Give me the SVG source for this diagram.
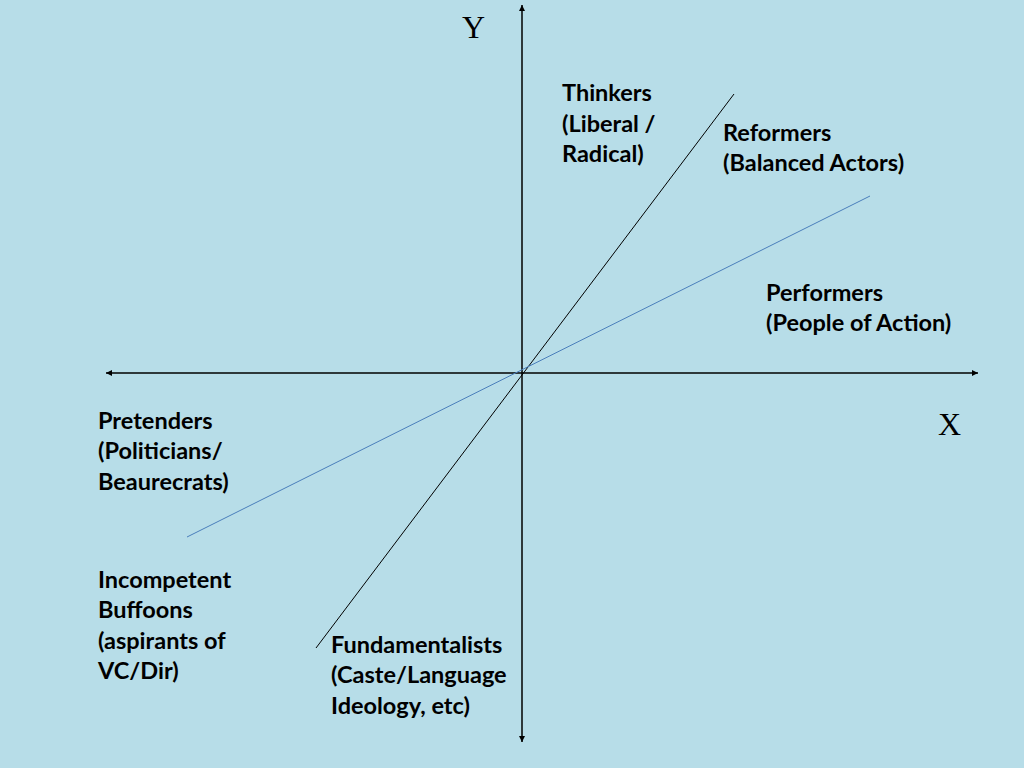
<svg xmlns="http://www.w3.org/2000/svg" width="1024" height="768" viewBox="0 0 1024 768">
<defs>
<style>
.lbl{font-family:"Lato","Liberation Sans",sans-serif;font-weight:bold;font-size:23.5px;fill:#000}
.ax{font-family:"Liberation Serif",serif;font-size:32px;fill:#000}
.axis{stroke:#000;stroke-width:1.5;fill:none}
</style>
<marker id="ah" viewBox="0 0 10 10" refX="10" refY="5" markerWidth="6" markerHeight="6" orient="auto-start-reverse" markerUnits="userSpaceOnUse">
<path d="M0,0 L10,5 L0,10 z" fill="#000"/>
</marker>
</defs>
<rect width="1024" height="768" fill="#B7DDE8"/>
<g id="connectors">
<line class="axis" x1="522" y1="742" x2="522" y2="5" marker-start="url(#ah)" marker-end="url(#ah)"/>
<line class="axis" x1="106" y1="373" x2="978" y2="373" marker-start="url(#ah)" marker-end="url(#ah)"/>
<line x1="316" y1="648" x2="734" y2="94" stroke="#000" stroke-width="1"/>
<line x1="187" y1="537" x2="870" y2="196" stroke="#4A7EBB" stroke-width="1"/>
</g>
<g id="axis-y"><text class="ax" x="462" y="38">Y</text></g>
<g id="axis-x"><text class="ax" x="938" y="435">X</text></g>
<g id="thinkers"><text class="lbl" x="562" y="101">Thinkers</text><text class="lbl" x="562" y="132">(Liberal /</text><text class="lbl" x="562" y="162">Radical)</text></g>
<g id="reformers"><text class="lbl" x="723" y="141">Reformers</text><text class="lbl" x="723" y="171">(Balanced Actors)</text></g>
<g id="performers"><text class="lbl" x="766" y="301">Performers</text><text class="lbl" x="766" y="331">(People of Action)</text></g>
<g id="pretenders"><text class="lbl" x="98" y="429">Pretenders</text><text class="lbl" x="98" y="459">(Politicians/</text><text class="lbl" x="98" y="490">Beaurecrats)</text></g>
<g id="buffoons"><text class="lbl" x="98" y="588">Incompetent</text><text class="lbl" x="98" y="618">Buffoons</text><text class="lbl" x="98" y="649">(aspirants of</text><text class="lbl" x="98" y="679">VC/Dir)</text></g>
<g id="fundamentalists"><text class="lbl" x="331" y="653">Fundamentalists</text><text class="lbl" x="331" y="683">(Caste/Language</text><text class="lbl" x="331" y="714">Ideology, etc)</text></g>
</svg>
